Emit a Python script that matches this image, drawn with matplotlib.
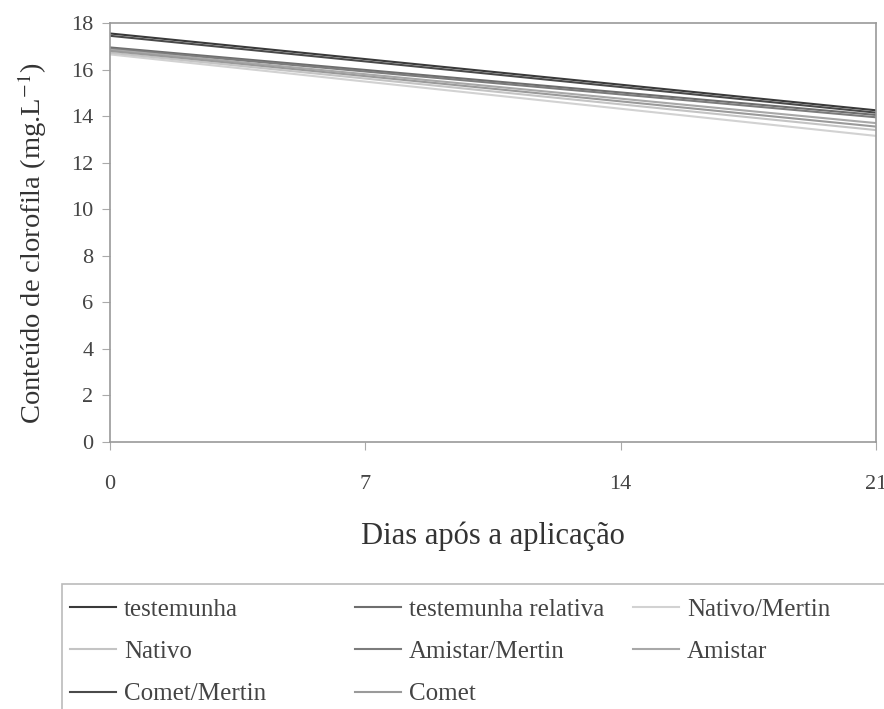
import matplotlib.pyplot as plt
from matplotlib.patches import Rectangle

plt.rcParams['font.family'] = ['Liberation Serif', 'DejaVu Serif']
plt.rcParams['mathtext.fontset'] = 'stix'

dias = [0, 21]

series_names = ['testemunha', 'testemunha relativa', 'Nativo/Mertin',
                'Nativo', 'Amistar/Mertin', 'Amistar',
                'Comet/Mertin', 'Comet']

testemunha = [17.55, 14.25]
testemunha_relativa = [16.95, 14.05]
nativo_mertin = [16.65, 13.15]
nativo = [16.72, 13.40]
amistar_mertin = [16.90, 13.95]
amistar = [16.85, 13.70]
comet_mertin = [17.45, 14.15]
comet = [16.80, 13.55]

values = [testemunha, testemunha_relativa, nativo_mertin, nativo,
          amistar_mertin, amistar, comet_mertin, comet]
colors = ['#3a3a3a', '#6e6e6e', '#d2d2d2', '#c4c4c4',
          '#7c7c7c', '#a8a8a8', '#4a4a4a', '#9a9a9a']

W, H = 884, 709
fig = plt.figure(figsize=(W / 100, H / 100), dpi=100)
ax = fig.add_axes([110 / W, 1 - 442 / H, 766 / W, 419 / H])

lines = []
for name, vals, c in zip(series_names, values, colors):
    ln, = ax.plot(dias, vals, color=c, lw=1.5, label=name)
    lines.append(ln)

ax.set_xlim(0, 21)
ax.set_ylim(0, 18)
ax.set_xticks([0, 7, 14, 21])
ax.set_yticks(range(0, 19, 2))
ax.tick_params(axis='both', labelsize=16, colors='#aaaaaa', labelcolor='#444444',
               length=6, width=0.8)
ax.tick_params(axis='y', pad=6)
ax.tick_params(axis='x', pad=17.5)
for sp in ax.spines.values():
    sp.set_color('#9a9a9a')
    sp.set_linewidth(1.2)

ax.set_xlabel('Dias após a aplicação', fontsize=22, color='#333333', labelpad=20)
ax.set_ylabel('Conteúdo de clorofila (mg.L$^{-1}$)', fontsize=20.5, color='#333333')
ax.yaxis.set_label_coords(-0.079, 0.475)

# legend box (runs off the right and bottom edges like the original)
fig.patches.append(Rectangle((62 / W, -0.05), 1.0, 1 - 584 / H + 0.05,
                             transform=fig.transFigure, fill=False,
                             edgecolor='#bbbbbb', lw=1.2))

# three columns of equal width
columns = [[0, 3, 6], [1, 4, 7], [2, 5]]
col_x = [70, 355, 633]
for idx, x0 in zip(columns, col_x):
    leg = fig.legend([lines[i] for i in idx], [series_names[i] for i in idx],
                     loc='upper left', bbox_to_anchor=(x0 / W, 1 - 598 / H),
                     fontsize=18, frameon=False, handlelength=1.85,
                     handletextpad=0.3, labelspacing=0.8, borderpad=0.0,
                     borderaxespad=0.0)
    for t in leg.get_texts():
        t.set_color('#444444')

fig.savefig('out.png', dpi=100)
